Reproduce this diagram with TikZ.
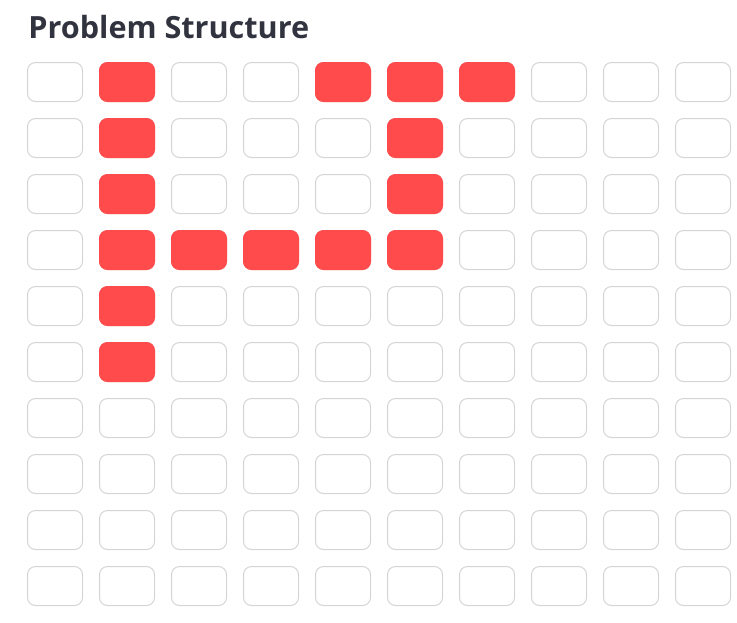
\documentclass[tikz,border=0pt]{standalone}
\usepackage{fontspec}
\setmainfont{Open Sans}
\definecolor{cellred}{HTML}{FF4B4B}
\definecolor{cellgrey}{HTML}{D5D5D8}
\definecolor{titlegrey}{HTML}{31333F}
\tikzset{every picture/.style={line width=0.75pt}}

\begin{document}
\begin{tikzpicture}[x=1pt,y=1pt,yscale=-1,xscale=1,
	cell/.style={draw=cellgrey, fill=white, rounded corners=8pt, minimum width=55pt, minimum height=39pt, inner sep=0pt, line width=1pt},
	filled/.style={cell, draw=cellred, fill=cellred}]
	\useasboundingbox (0,0) rectangle (737,622);
	
	% Text Node
	\node [anchor=base west, inner sep=0pt, text=titlegrey, font=\fontsize{30.6}{36}\selectfont\bfseries] (title) at (28,38) {Problem Structure};
	
	%Shape: Grid of cells
	\foreach \r in {0,...,9}
		\foreach \c in {0,...,9}
			\node [cell] (c-\r-\c) at (55+72*\c, 82+56*\r) {};
	
	%Shape: Filled cells
	\foreach \r/\c in {0/1,0/4,0/5,0/6,1/1,1/5,2/1,2/5,3/1,3/2,3/3,3/4,3/5,4/1,5/1}
		\node [filled] (f-\r-\c) at (c-\r-\c) {};
	
\end{tikzpicture}
\end{document}
